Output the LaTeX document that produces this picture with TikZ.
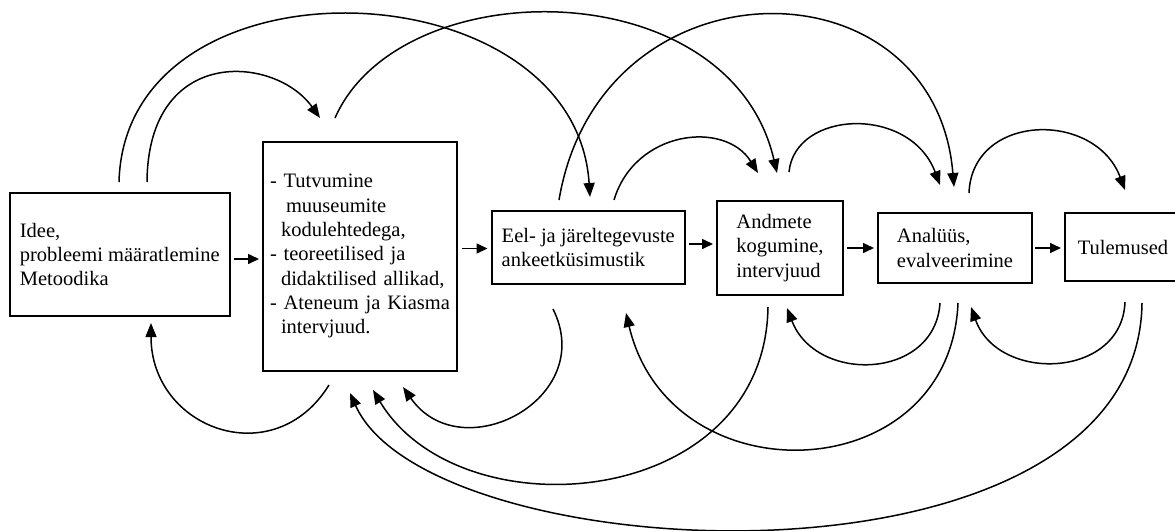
\documentclass[tikz,border=0pt]{standalone}
\usepackage{fontspec}
\setmainfont{Liberation Serif}
\usetikzlibrary{arrows.meta}
\begin{document}
\begin{tikzpicture}[x=1pt,y=-1pt,
  box/.style={draw=black, line width=2pt, anchor=north west, inner sep=0pt, align=left,
              font=\fontsize{20.5pt}{24.3pt}\selectfont},
  harrow/.style={line width=1.6pt, -{Triangle[length=11pt,width=10pt]}},
  curvearrow/.style={line width=1.5pt, -{Triangle[length=14pt,width=11pt]}}
]
\useasboundingbox (0,0) rectangle (1175,530);

% boxes
\node[box, minimum width=220.5pt, minimum height=123pt] (b1) at (8.5,192)
  {Idee,\\probleemi määratlemine\\Metoodika};
\node[box, inner xsep=7pt, text width=180pt, minimum width=194pt, minimum height=229.5pt] (b2) at (262,140.5)
  {- Tutvumine\\\hspace*{16pt}muuseumite\\\hspace*{11pt}kodulehtedega,\\- teoreetilised ja\\\hspace*{11pt}didaktilised allikad,\\- Ateneum ja Kiasma\\\hspace*{11pt}intervjuud.};
\node[box, minimum width=193.5pt, minimum height=73pt] (b3) at (490.5,210)
  {Eel- ja järeltegevuste\\ankeetküsimustik};
\node[box, minimum width=126pt, minimum height=94pt] (b4) at (716,200)
  {Andmete\\kogumine,\\intervjuud};
\node[box, minimum width=154pt, minimum height=70pt] (b5) at (877,212)
  {Analüüs,\\evalveerimine};
\node[box, minimum width=116pt, minimum height=68pt] (b6) at (1064,212)
  {Tulemused};

% straight arrows
\draw[harrow] ([shift={(3,4.5)}]b1.east) -- ([shift={(-3,2.75)}]b2.west);
\draw[harrow] ([shift={(4,-7.75)}]b2.east) -- ([shift={(-3,1)}]b3.west);
\draw[harrow] ([shift={(3,-3.5)}]b3.east) -- ([shift={(-3,-4)}]b4.west);
\draw[harrow] ([shift={(3,0)}]b4.east) -- ([shift={(-3,0)}]b5.west);
\draw[harrow] ([shift={(2,0)}]b5.east) -- ([shift={(-3,1)}]b6.west);

% end points of the curved connectors
\coordinate (t1s) at (147,182);  \coordinate (t1e) at (320,118);
\coordinate (t2s) at (119,182);  \coordinate (t2e) at (590,197);
\coordinate (t3s) at (335,118);  \coordinate (t3e) at (777,173);
\coordinate (t4s) at (614,200);  \coordinate (t4e) at (758,173);
\coordinate (t5s) at (559,200);  \coordinate (t5e) at (954,187);
\coordinate (t6s) at (789,172);  \coordinate (t6e) at (940,185);
\coordinate (t7s) at (969,193);  \coordinate (t7e) at (1125,190);
\coordinate (u1s) at (329,385);  \coordinate (u1e) at (151,323);
\coordinate (u2s) at (553,309);  \coordinate (u2e) at (403,387);
\coordinate (u3s) at (768,307);  \coordinate (u3e) at (373,390);
\coordinate (u4s) at (1142,303); \coordinate (u4e) at (350,393);
\coordinate (u5s) at (958,303);  \coordinate (u5e) at (626,313);
\coordinate (u6s) at (940,303);  \coordinate (u6e) at (787,308);
\coordinate (u7s) at (1125,302); \coordinate (u7e) at (971,307);

% upper curves
\draw[curvearrow] (t1s) .. controls +(1,-137) and +(-45,-63) .. (t1e);
\draw[curvearrow] (t2s) .. controls +(6,-233) and +(-15,-233) .. (t2e);
\draw[curvearrow] (t3s) .. controls +(65,-148) and +(-47,-203) .. (t3e);
\draw[curvearrow] (t4s) .. controls +(21,-70) and +(-33,-53) .. (t4e);
\draw[curvearrow] (t5s) .. controls +(41,-244) and +(-19,-231) .. (t5e);
\draw[curvearrow] (t6s) .. controls +(6,-62) and +(-30,-80) .. (t6e);
\draw[curvearrow] (t7s) .. controls +(3,-80) and +(-30,-80) .. (t7e);

% lower curves
\draw[curvearrow] (u1s) .. controls +(-55,89) and +(0,106) .. (u1e);
\draw[curvearrow] (u2s) .. controls +(45,90) and +(58,83) .. (u2e);
\draw[curvearrow] (u3s) .. controls +(-3,203) and +(87,145) .. (u3e);
\draw[curvearrow] (u4s) .. controls +(-4,302) and +(80,179) .. (u4e);
\draw[curvearrow] (u5s) .. controls +(-8,187) and +(44,187) .. (u5e);
\draw[curvearrow] (u6s) .. controls +(-5,77) and +(29,76) .. (u6e);
\draw[curvearrow] (u7s) .. controls +(-3,77) and +(27,76) .. (u7e);
\end{tikzpicture}
\end{document}
